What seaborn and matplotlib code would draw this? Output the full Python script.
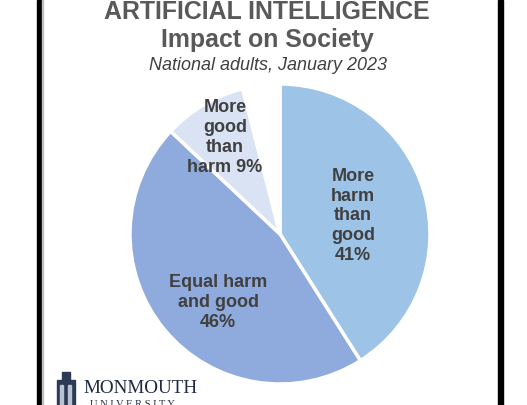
import matplotlib
matplotlib.use("Agg")
import matplotlib.pyplot as plt
import seaborn as sns
from matplotlib.patches import Rectangle

# ## Data ## #
labels = ["More\nharm\nthan\ngood\n41%", "Equal harm\nand good\n46%", "More\ngood\nthan\nharm 9%", ""]
shares = [41, 46, 9, 4]
colors = ["#9DC3E6", "#8FAADC", "#DAE3F3", "#FFFFFF"]
# label anchor inside each slice, in pie units
label_pos = [(0.487, 0.12), (-0.413, -0.455), (-0.367, 0.645), None]

title_1 = "ARTIFICIAL INTELLIGENCE"
title_2 = "Impact on Society"
subtitle = "National adults, January 2023"

sns.set_theme(style="white")
plt.rcParams["font.family"] = ["Liberation Sans", "DejaVu Sans"]

W, H = 527, 405
fig = plt.figure(figsize=(W / 100, H / 100), dpi=100)
fig.patch.set_facecolor("white")

# pie axes: centre (280, 234) px, radius 150 px
cx, cy, r = 280, 234, 150
ax = fig.add_axes([(cx - r) / W, (H - cy - r) / H, 2 * r / W, 2 * r / H])
ax.pie(shares, colors=colors, startangle=90, counterclock=False,
       wedgeprops=dict(edgecolor="white", linewidth=2.5))
ax.set_xlim(-1, 1)
ax.set_ylim(-1, 1)
ax.axis("off")

for lab, pos in zip(labels, label_pos):
    if pos is None:
        continue
    ax.text(pos[0], pos[1], lab, ha="center", va="center", fontsize=13,
            fontweight="bold", color="#404040", linespacing=1.22)

# titles
fig.text(267 / W, 1 - 19 / H, title_1, ha="center", va="baseline",
         fontsize=17.9, fontweight="bold", color="#595959")
fig.text(267 / W, 1 - 47 / H, title_2, ha="center", va="baseline",
         fontsize=17.9, fontweight="bold", color="#595959")
fig.text(268 / W, 1 - 70 / H, subtitle, ha="center", va="baseline",
         fontsize=13, style="italic", color="#404040")

# logo
fig.text(83 / W, 1 - 393 / H, "MONMOUTH", ha="left", va="baseline",
         fontsize=13.8, family=["Liberation Serif", "DejaVu Serif"], color="#1F2A44")
fig.text(90 / W, 1 - 407 / H, "U N I V E R S I T Y", ha="left", va="baseline",
         fontsize=7.5, family=["Liberation Serif", "DejaVu Serif"], color="#1F2A44")
for x0, y0, w, h, c in [(57, 380, 18, 25, "#2B3A55"), (62, 372, 8, 8, "#2B3A55"),
                        (60, 385, 3, 20, "#B8C2D0"), (68, 385, 3, 20, "#B8C2D0")]:
    fig.patches.append(Rectangle((x0 / W, 1 - (y0 + h) / H), w / W, h / H,
                                 transform=fig.transFigure, color=c, zorder=3))

# black frame sides
for x0, w, c in [(37, 5, "black"), (42, 1, "#BFBFBF"), (498, 5, "black")]:
    fig.patches.append(Rectangle((x0 / W, 0), w / W, 1, transform=fig.transFigure,
                                 color=c, zorder=4))

fig.savefig("out.png", dpi=100)
